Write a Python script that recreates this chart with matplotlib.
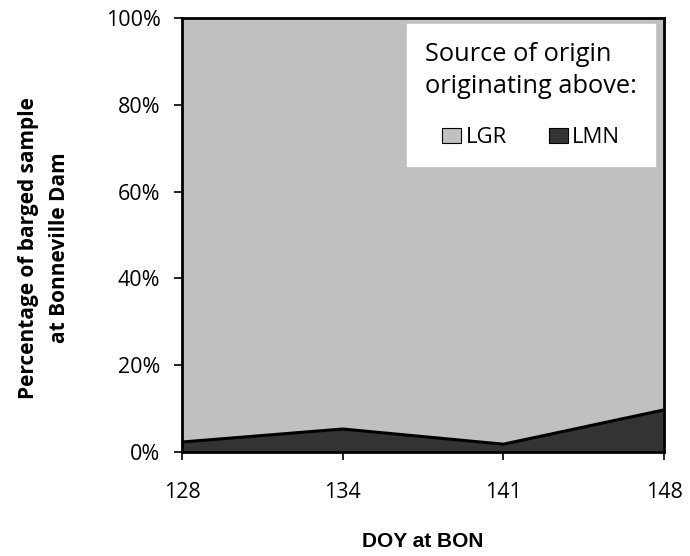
import numpy as np
import matplotlib.pyplot as plt
from matplotlib.patches import Patch

doy = ['128', '134', '141', '148']
lmn = [2.3, 5.3, 1.8, 9.7]
lgr = [100 - v for v in lmn]

fig = plt.figure(figsize=(6.9, 5.56), dpi=100)
ax = fig.add_axes([182 / 690, 1 - 452 / 556, (664 - 182) / 690, (452 - 18) / 556])

x = np.arange(len(doy))
ax.stackplot(x, lmn, lgr, colors=['#333333', '#c0c0c0'], linewidth=0)
ax.plot(x, lmn, color='black', lw=2.2, zorder=3)

ax.set_xlim(0, 3)
ax.set_ylim(0, 100)
ax.set_xticks(x)
ax.set_xticklabels(doy, fontname='Open Sans', fontsize=15.5)
ax.set_yticks(np.arange(0, 101, 20))
ax.set_yticklabels([f'{v}%' for v in range(0, 101, 20)], fontname='Open Sans', fontsize=15.5)
ax.tick_params(axis='both', direction='out', length=5.5, width=1.2, colors='black')
ax.tick_params(axis='x', pad=16)
ax.tick_params(axis='y', pad=10)
for s in ax.spines.values():
    s.set_linewidth(2)
    s.set_color('black')

ax.set_xlabel('DOY at BON', fontname='Liberation Sans', fontweight='bold', fontsize=15, labelpad=21)
ax.set_ylabel('Percentage of barged sample\nat Bonneville Dam', fontname='Open Sans', fontweight='bold',
              fontsize=15, linespacing=1.65)
ax.yaxis.set_label_coords(-0.232, 0.47)

handles = [Patch(facecolor='#c0c0c0', edgecolor='black', lw=0.8, label='LGR'),
           Patch(facecolor='#333333', edgecolor='black', lw=0.8, label='LMN')]
leg = ax.legend(handles=handles, title='Source of origin\noriginating above:', ncol=2,
                loc='upper right', bbox_to_anchor=(0.981, 0.986), borderaxespad=0,
                fancybox=False, frameon=True,
                edgecolor='white', framealpha=1, prop={'family': 'Open Sans', 'size': 16},
                title_fontproperties={'family': 'Open Sans', 'size': 18.3},
                handlelength=0.85, handleheight=0.7, handletextpad=0.2, columnspacing=1.9,
                borderpad=0.8, labelspacing=1.25)
leg.get_title().set_linespacing(1.4)
leg.get_title().set_multialignment('left')

fig.savefig('out.png', dpi=100)
